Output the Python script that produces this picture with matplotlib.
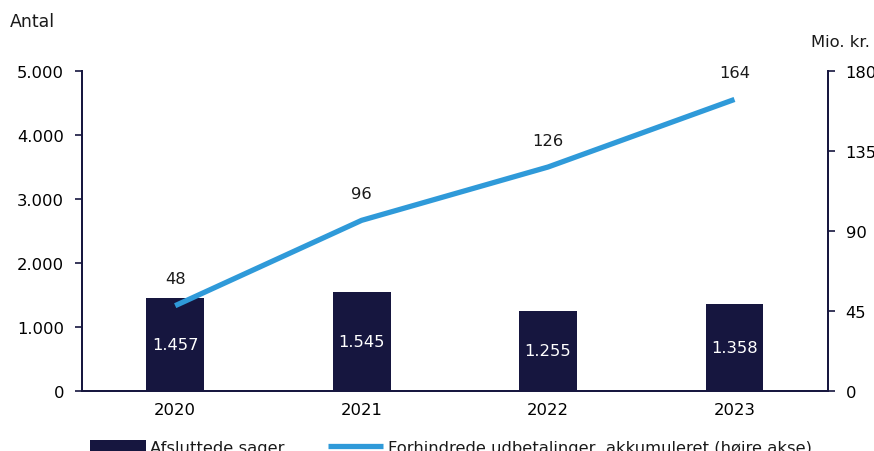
import matplotlib
matplotlib.use("Agg")
import matplotlib.pyplot as plt
import numpy as np

years = ["2020", "2021", "2022", "2023"]
cases = [1457, 1545, 1255, 1358]
case_labels = ["1.457", "1.545", "1.255", "1.358"]
prevented = [48, 96, 126, 164]

left_ticks = [0, 1000, 2000, 3000, 4000, 5000]
left_labels = ["0", "1.000", "2.000", "3.000", "4.000", "5.000"]
right_ticks = [0, 45, 90, 135, 180]

NAVY = "#16163f"
BLUE = "#2f9ad9"

plt.rcParams.update({"font.family": "DejaVu Sans", "font.size": 11.8, "text.color": "#1a1a1a"})

fig = plt.figure(figsize=(8.74, 4.52), dpi=100)
ax = fig.add_axes([0.0938, 0.1327, 0.8532, 0.708])
x = np.arange(len(years))

bars = ax.bar(x, cases, width=0.31, color=NAVY, label="Afsluttede sager", zorder=2)
for xi, v, lab in zip(x, cases, case_labels):
    ax.text(xi, v / 2, lab, color="white", ha="center", va="center", zorder=3)

ax.set_xlim(-0.5, 3.5)
ax.set_ylim(0, 5000)
ax.set_yticks(left_ticks, left_labels)
ax.set_xticks(x, years)
ax.tick_params(axis="x", length=0, pad=8)
ax.tick_params(axis="y", length=5, color=NAVY, width=1.2, pad=8)
ax.spines["top"].set_visible(False)
for s in ["left", "right", "bottom"]:
    ax.spines[s].set_color(NAVY)
    ax.spines[s].set_linewidth(1.3)

ax2 = ax.twinx()
line, = ax2.plot(x, prevented, color=BLUE, lw=3.8, solid_capstyle="butt", zorder=4)
for xi, v in zip(x, prevented):
    ax2.annotate(str(v), (xi, v), xytext=(0, 27), textcoords="offset pixels",
                 ha="center", va="center")
ax2.set_ylim(0, 180)
ax2.set_yticks(right_ticks)
ax2.tick_params(axis="y", length=5, color=NAVY, width=1.2, pad=8)
ax2.spines["top"].set_visible(False)
for s in ["left", "right", "bottom"]:
    ax2.spines[s].set_color(NAVY)
    ax2.spines[s].set_linewidth(1.3)

fig.text(0.011, 0.951, "Antal", ha="left", va="center", fontsize=12.5)
fig.text(0.995, 0.907, "Mio. kr.", ha="right", va="center")

fig.legend([bars, line], ["Afsluttede sager", "Forhindrede udbetalinger, akkumuleret (højre akse)"],
           loc="center", bbox_to_anchor=(0.516, 0.008), ncol=2, frameon=False,
           handlelength=3.4, columnspacing=2.6, handletextpad=0.3)

fig.savefig("out.png", dpi=100)
